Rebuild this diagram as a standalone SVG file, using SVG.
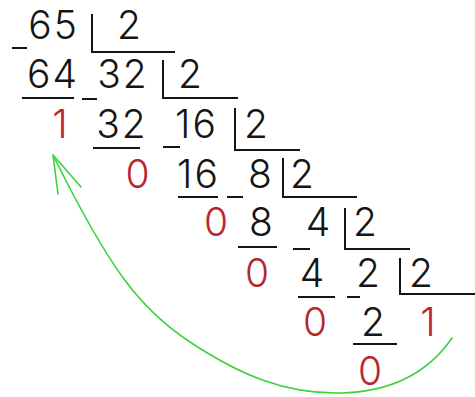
<svg xmlns="http://www.w3.org/2000/svg" width="475" height="397" viewBox="0 0 475 397">
<style>
.n{font-family:Inter,"Liberation Sans",sans-serif;font-size:39px;font-weight:300;text-anchor:middle;fill:#151515}
.w{letter-spacing:2px}
.r{fill:#b8262e}
.ln{stroke:#151515;stroke-width:2;fill:none}
.arc{stroke:#3ad43a;stroke-width:1.6;fill:none;stroke-linecap:round;stroke-linejoin:round}
</style>
<rect width="475" height="397" fill="#ffffff"/>
<g id="step1">
<text class="n w" x="53.5" y="39">65</text>
<path class="ln" d="M12,48H27M92,14V52H175"/>
<text class="n" x="129" y="39">2</text>
<text class="n w" x="53" y="88">64</text>
<path class="ln" d="M22,98H74"/>
<text class="n r" x="60" y="138">1</text>
</g>
<g id="step2">
<text class="n w" x="123" y="88">32</text>
<path class="ln" d="M82,99H97M163,60V98H238"/>
<text class="n" x="190" y="88">2</text>
<text class="n w" x="122" y="138">32</text>
<path class="ln" d="M93,148H140"/>
<text class="n r" x="137.5" y="188">0</text>
</g>
<g id="step3">
<text class="n w" x="196.5" y="138">16</text>
<path class="ln" d="M163,147H180M235,108V150H300"/>
<text class="n" x="256" y="138">2</text>
<text class="n w" x="198.5" y="188">16</text>
<path class="ln" d="M178,197H218"/>
<text class="n r" x="216" y="236">0</text>
</g>
<g id="step4">
<text class="n" x="260" y="188">8</text>
<path class="ln" d="M227,197H243M283,158V197H357"/>
<text class="n" x="302" y="188">2</text>
<text class="n" x="261" y="236">8</text>
<path class="ln" d="M238,247H277"/>
<text class="n r" x="257" y="287">0</text>
</g>
<g id="step5">
<text class="n" x="318" y="236">4</text>
<path class="ln" d="M293,249H310M345,208V249H410"/>
<text class="n" x="365" y="236">2</text>
<text class="n" x="312" y="287">4</text>
<path class="ln" d="M298,297H335"/>
<text class="n r" x="315" y="336">0</text>
</g>
<g id="step6">
<text class="n" x="368" y="287">2</text>
<path class="ln" d="M347,297H360M400,258V294H475"/>
<text class="n" x="421" y="287">2</text>
<text class="n" x="373" y="336">2</text>
<path class="ln" d="M353,344H397"/>
<text class="n r" x="370" y="385">0</text>
</g>
<g id="step7">
<text class="n r" x="428" y="336">1</text>
</g>
<g id="connectors">
<path class="arc" d="M452,338C430,370 395,392 340,393S240,375 190,342S110,270 53,155"/>
<path class="arc" d="M58,194L53,155L81,187"/>
</g>
</svg>
